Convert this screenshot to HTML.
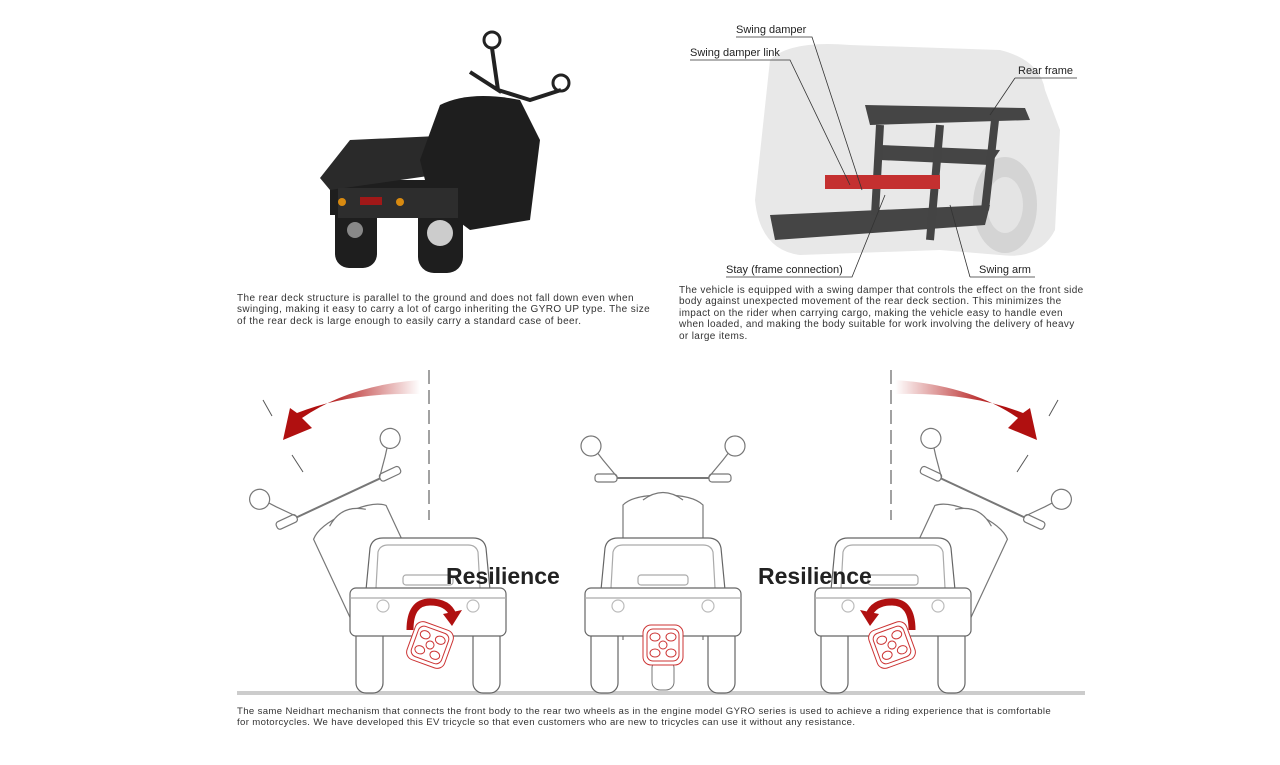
<!DOCTYPE html>
<html><head><meta charset="utf-8"><style>
body{margin:0;background:#fff;width:1280px;height:765px;overflow:hidden;position:relative;font-family:"Liberation Sans",sans-serif;}
.t{position:absolute;font-size:10px;line-height:11.4px;color:#333;white-space:nowrap;}
.l{position:absolute;font-size:11px;color:#222;}
</style></head><body>
<svg width="1280" height="765" style="position:absolute;left:0;top:0">
<defs>
<linearGradient id="gl" x1="1" y1="0" x2="0" y2="0"><stop offset="0" stop-color="#b01010" stop-opacity="0"/><stop offset="0.7" stop-color="#b01010"/></linearGradient>
<linearGradient id="gr" x1="0" y1="0" x2="1" y2="0"><stop offset="0" stop-color="#b01010" stop-opacity="0"/><stop offset="0.7" stop-color="#b01010"/></linearGradient>
<g id="veh" fill="#fff" stroke="#666" stroke-width="1.2">
<rect x="-72" y="625" width="27" height="68" rx="10"/>
<rect x="45" y="625" width="27" height="68" rx="10"/>
<path d="M-62 590 L-58 548 Q-56 538 -45 538 L45 538 Q56 538 58 548 L62 590 Z"/>
<path d="M-52 588 L-50 552 Q-48 545 -40 545 L40 545 Q48 545 50 552 L52 588" fill="none" stroke="#aaa"/>
<rect x="-78" y="588" width="156" height="48" rx="6"/>
<line x1="-78" y1="598" x2="78" y2="598" stroke="#aaa"/>
<rect x="-25" y="575" width="50" height="10" rx="3" fill="none" stroke="#aaa"/>
<circle cx="-45" cy="606" r="6" fill="none" stroke="#bbb"/><circle cx="45" cy="606" r="6" fill="none" stroke="#bbb"/>
</g>
<g id="whl" fill="#fff" stroke="#c33" stroke-width="1">
<rect x="-20" y="-20" width="40" height="40" rx="8"/><rect x="-16" y="-16" width="32" height="32" rx="6"/>
<circle r="4"/><ellipse cx="-8" cy="-8" rx="5" ry="4"/><ellipse cx="8" cy="-8" rx="5" ry="4"/><ellipse cx="-8" cy="8" rx="5" ry="4"/><ellipse cx="8" cy="8" rx="5" ry="4"/>
</g>
<g id="front" fill="#fff" stroke="#777" stroke-width="1.2">
<path d="M-40 640 L-40 505 Q-30 495 0 495 Q30 495 40 505 L40 640"/>
<path d="M-20 500 Q0 485 20 500"/>
<path d="M-60 478 L60 478" stroke-width="2"/>
<rect x="-68" y="474" width="22" height="8" rx="3"/><rect x="46" y="474" width="22" height="8" rx="3"/>
<path d="M-45 478 L-60 460 L-70 447"/><path d="M45 478 L60 460 L70 447"/>
<circle cx="-72" cy="446" r="10"/><circle cx="72" cy="446" r="10"/>
</g>
</defs>
<g fill="#1e1e1e">
<path d="M330 180 L430 180 L470 200 L470 215 L330 215 Z"/>
<path d="M320 178 L350 140 L460 135 L470 170 L330 190Z" fill="#2a2a2a"/>
<rect x="335" y="200" width="42" height="68" rx="14"/>
<rect x="418" y="195" width="45" height="78" rx="16"/>
<path d="M420 160 L440 105 Q470 90 520 100 L540 140 L530 220 L470 230 L430 200Z"/>
<rect x="338" y="188" width="120" height="30" fill="#2d2d2d"/>
</g>
<circle cx="440" cy="233" r="13" fill="#ccc"/><circle cx="355" cy="230" r="8" fill="#888"/>
<rect x="360" y="197" width="22" height="8" fill="#a01818"/>
<circle cx="342" cy="202" r="4" fill="#d88a10"/><circle cx="400" cy="202" r="4" fill="#d88a10"/>
<circle cx="492" cy="40" r="8" fill="#fff" stroke="#222" stroke-width="3"/><circle cx="561" cy="83" r="8" fill="#fff" stroke="#222" stroke-width="3"/>
<path d="M492 48 L498 90 L470 72 M498 90 L530 100 L561 90" stroke="#222" stroke-width="4" fill="none"/>
<path d="M770 60 Q790 40 850 45 L1000 50 Q1040 60 1045 90 L1060 130 L1055 230 Q1040 260 1000 255 L940 250 L800 255 Q760 250 755 200 Z" fill="#e8e8e8"/>
<ellipse cx="1005" cy="205" rx="32" ry="48" fill="#d4d4d4"/><ellipse cx="1005" cy="205" rx="18" ry="28" fill="#e4e4e4"/>
<path d="M865 105 L1025 108 L1030 120 L870 125Z M880 145 L1000 150 L990 165 L880 160Z M770 215 L990 205 L985 225 L775 240Z" fill="#454545"/>
<path d="M880 125 L875 215 M940 125 L930 240 M995 120 L985 210" stroke="#444" stroke-width="8"/>
<rect x="825" y="175" width="115" height="14" fill="#c43030"/>
<g stroke="#333" stroke-width="0.8" fill="none">
<path d="M736 37 L812 37 L862 190"/><path d="M690 60 L790 60 L850 185"/>
<path d="M1015 78 L1077 78 M1015 78 L990 115"/><path d="M726 277 L852 277 L885 195"/>
<path d="M970 277 L1035 277 M970 277 L950 205"/>
</g>
<line x1="237" y1="693" x2="1085" y2="693" stroke="#ccc" stroke-width="4"/>
<line x1="429" y1="370" x2="429" y2="520" stroke="#444" stroke-dasharray="14 6"/>
<line x1="891" y1="370" x2="891" y2="520" stroke="#444" stroke-dasharray="14 6"/>
<g stroke="#555"><line x1="263" y1="400" x2="272" y2="416"/><line x1="292" y1="455" x2="303" y2="472"/><line x1="1058" y1="400" x2="1049" y2="416"/><line x1="1028" y1="455" x2="1017" y2="472"/></g>
<path d="M420 380 Q350 385 302 418 L312 428 L283 440 L290 408 L297 413 Q350 392 420 394Z" fill="url(#gl)"/>
<path d="M895 380 Q970 385 1018 418 L1008 428 L1037 440 L1030 408 L1023 413 Q970 392 895 394Z" fill="url(#gr)"/>
<g transform="translate(428,0) rotate(-25 0 690)"><use href="#front"/></g>
<use href="#veh" transform="translate(428,0)"/>
<g transform="translate(430,645) rotate(20)"><use href="#whl"/></g>
<use href="#front" transform="translate(663,0)"/>
<use href="#veh" transform="translate(663,0)"/>
<rect x="652" y="660" width="22" height="30" rx="8" fill="#fff" stroke="#777"/>
<use href="#whl" transform="translate(663,645)"/>
<g transform="translate(893,0) rotate(25 0 690)"><use href="#front"/></g>
<use href="#veh" transform="translate(893,0)"/>
<g transform="translate(892,645) rotate(-20)"><use href="#whl"/></g>
<path d="M410 630 Q410 602 430 602 Q448 602 453 615" stroke="#b01010" stroke-width="7" fill="none"/>
<path d="M443 614 L462 610 L452 626Z" fill="#b01010"/>
<path d="M912 630 Q912 602 892 602 Q874 602 869 615" stroke="#b01010" stroke-width="7" fill="none"/>
<path d="M879 614 L860 610 L870 626Z" fill="#b01010"/>
</svg>
<div class="l" style="left:736px;top:24px">Swing damper</div>
<div class="l" style="left:690px;top:47px">Swing damper link</div>
<div class="l" style="left:1018px;top:65px">Rear frame</div>
<div class="l" style="left:726px;top:264px">Stay (frame connection)</div>
<div class="l" style="left:979px;top:264px">Swing arm</div>
<div class="t" style="left:237px;top:293px;letter-spacing:0.4px">The rear deck structure is parallel to the ground and does not fall down even when<br>swinging, making it easy to carry a lot of cargo inheriting the GYRO UP type. The size<br>of the rear deck is large enough to easily carry a standard case of beer.</div>
<div class="t" style="left:679px;top:285px;letter-spacing:0.35px">The vehicle is equipped with a swing damper that controls the effect on the front side<br>body against unexpected movement of the rear deck section. This minimizes the<br>impact on the rider when carrying cargo, making the vehicle easy to handle even<br>when loaded, and making the body suitable for work involving the delivery of heavy<br>or large items.</div>
<div style="position:absolute;left:446px;top:563px;font-size:23px;font-weight:bold;color:#222">Resilience</div>
<div style="position:absolute;left:758px;top:563px;font-size:23px;font-weight:bold;color:#222">Resilience</div>
<div class="t" style="left:237px;top:706px;font-size:9.6px;letter-spacing:0.35px">The same Neidhart mechanism that connects the front body to the rear two wheels as in the engine model GYRO series is used to achieve a riding experience that is comfortable<br>for motorcycles. We have developed this EV tricycle so that even customers who are new to tricycles can use it without any resistance.</div>
</body></html>
